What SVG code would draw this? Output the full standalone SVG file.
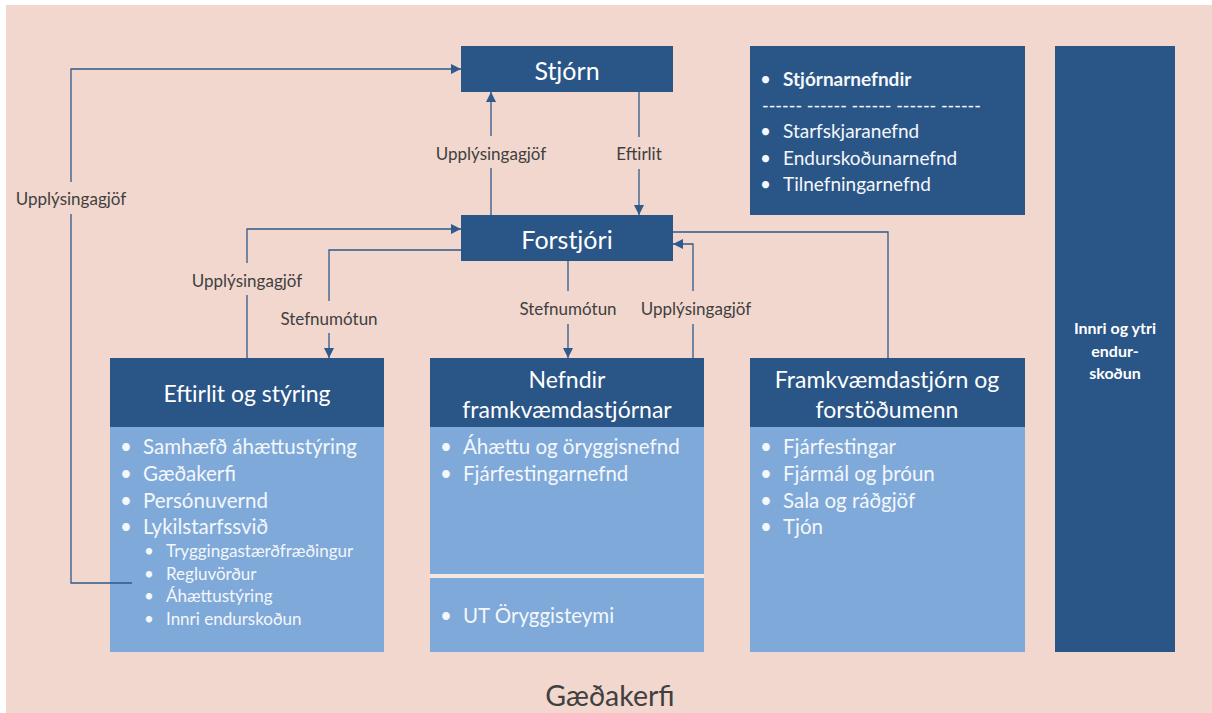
<svg xmlns="http://www.w3.org/2000/svg" width="1212" height="713" viewBox="0 0 1212 713">
<defs>
<marker id="arr" viewBox="0 0 10 10" refX="10" refY="5" markerWidth="10" markerHeight="10" markerUnits="userSpaceOnUse" orient="auto">
<path d="M0,0 L10,5 L0,10 z" fill="#2E5A8C"/>
</marker>
<style>
.dark{fill:#2A5587;}
.light{fill:#7FA9D9;}
.hd{font-family:Lato,"Liberation Sans",sans-serif;fill:#ffffff;text-anchor:middle;dominant-baseline:central;}
.li{font-family:Lato,"Liberation Sans",sans-serif;fill:#F4F7FB;font-size:20.5px;dominant-baseline:central;}
.sm{font-size:19px;}
.sub{font-family:Lato,"Liberation Sans",sans-serif;fill:#F4F7FB;font-size:17px;dominant-baseline:central;}
.lbl{font-family:Lato,"Liberation Sans",sans-serif;fill:#404040;font-size:17px;text-anchor:middle;dominant-baseline:central;}
.ln{fill:none;stroke:#2E5A8C;stroke-width:1.3;}
</style>
</defs>
<rect x="0" y="0" width="1212" height="713" fill="#ffffff"/>
<rect x="6" y="5" width="1206" height="708" fill="#F2D7CE"/>

<g id="stjorn">
<rect class="dark" x="461" y="46" width="212" height="46"/>
<text class="hd" x="567" y="70" font-size="25">Stjórn</text>
</g>
<g id="forstjori">
<rect class="dark" x="461" y="215" width="212" height="46"/>
<text class="hd" x="567" y="239" font-size="25">Forstjóri</text>
</g>
<g id="stjornarnefndir">
<rect class="dark" x="750" y="46" width="275" height="169"/>
<text class="li sm" x="760" y="78">•</text>
<text class="li sm" x="783" y="78" font-weight="bold">Stjórnarnefndir</text>
<text class="li sm" x="762" y="104" textLength="219" lengthAdjust="spacingAndGlyphs">------ ------ ------ ------ ------</text>
<text class="li sm" x="760" y="130">•</text>
<text class="li sm" x="783" y="130">Starfskjaranefnd</text>
<text class="li sm" x="760" y="157">•</text>
<text class="li sm" x="783" y="157">Endurskoðunarnefnd</text>
<text class="li sm" x="760" y="183">•</text>
<text class="li sm" x="783" y="183">Tilnefningarnefnd</text>
</g>
<g id="endurskodun">
<rect class="dark" x="1055" y="46" width="120" height="606"/>
<text class="hd" x="1115" y="327" font-size="16" font-weight="bold">Innri og ytri</text>
<text class="hd" x="1115" y="350" font-size="16" font-weight="bold">endur-</text>
<text class="hd" x="1115" y="372" font-size="16" font-weight="bold">skoðun</text>
</g>
<g id="eftirlit">
<rect class="dark" x="110" y="358" width="274" height="69"/>
<rect class="light" x="110" y="427" width="274" height="225"/>
<text class="hd" x="247" y="393" font-size="23">Eftirlit og stýring</text>
<text class="li" x="120" y="446">•</text><text class="li" x="143" y="446">Samhæfð áhættustýring</text>
<text class="li" x="120" y="473">•</text><text class="li" x="143" y="473">Gæðakerfi</text>
<text class="li" x="120" y="500">•</text><text class="li" x="143" y="500">Persónuvernd</text>
<text class="li" x="120" y="526">•</text><text class="li" x="143" y="526">Lykilstarfssvið</text>
<text class="sub" x="144" y="550">•</text><text class="sub" x="166" y="550">Tryggingastærðfræðingur</text>
<text class="sub" x="144" y="573">•</text><text class="sub" x="166" y="573">Regluvörður</text>
<text class="sub" x="144" y="595">•</text><text class="sub" x="166" y="595">Áhættustýring</text>
<text class="sub" x="144" y="618">•</text><text class="sub" x="166" y="618">Innri endurskoðun</text>
</g>
<g id="nefndir">
<rect class="dark" x="430" y="358" width="274" height="69"/>
<rect class="light" x="430" y="427" width="274" height="147"/>
<rect x="430" y="574" width="274" height="4" fill="#F4E6E1"/>
<rect class="light" x="430" y="578" width="274" height="74"/>
<text class="hd" x="567" y="379" font-size="23">Nefndir</text>
<text class="hd" x="567" y="409" font-size="23">framkvæmdastjórnar</text>
<text class="li" x="440" y="446">•</text><text class="li" x="463" y="446">Áhættu og öryggisnefnd</text>
<text class="li" x="440" y="473">•</text><text class="li" x="463" y="473">Fjárfestingarnefnd</text>
<text class="li" x="440" y="615">•</text><text class="li" x="463" y="615">UT Öryggisteymi</text>
</g>
<g id="framkvaemdastjorn">
<rect class="dark" x="750" y="358" width="275" height="69"/>
<rect class="light" x="750" y="427" width="275" height="225"/>
<text class="hd" x="887" y="379" font-size="23">Framkvæmdastjórn og</text>
<text class="hd" x="887" y="409" font-size="23">forstöðumenn</text>
<text class="li" x="760" y="446">•</text><text class="li" x="783" y="446">Fjárfestingar</text>
<text class="li" x="760" y="473">•</text><text class="li" x="783" y="473">Fjármál og þróun</text>
<text class="li" x="760" y="500">•</text><text class="li" x="783" y="500">Sala og ráðgjöf</text>
<text class="li" x="760" y="526">•</text><text class="li" x="783" y="526">Tjón</text>
</g>

<g id="connectors">
<path class="ln" d="M132,583 H71 V214"/>
<path class="ln" d="M71,182 V69 H461" marker-end="url(#arr)"/>
<text class="lbl" x="71" y="198">Upplýsingagjöf</text>

<path class="ln" d="M491,215 V168"/>
<path class="ln" d="M491,136 V92" marker-end="url(#arr)"/>
<text class="lbl" x="491" y="153">Upplýsingagjöf</text>

<path class="ln" d="M639,92 V137"/>
<path class="ln" d="M639,169 V215" marker-end="url(#arr)"/>
<text class="lbl" x="639" y="153">Eftirlit</text>

<path class="ln" d="M247,358 V295"/>
<path class="ln" d="M247,263 V229 H461" marker-end="url(#arr)"/>
<text class="lbl" x="247" y="280">Upplýsingagjöf</text>

<path class="ln" d="M461,250 H329 V301"/>
<path class="ln" d="M329,333 V358" marker-end="url(#arr)"/>
<text class="lbl" x="329" y="318">Stefnumótun</text>

<path class="ln" d="M568,261 V291"/>
<path class="ln" d="M568,324 V358" marker-end="url(#arr)"/>
<text class="lbl" x="568" y="308">Stefnumótun</text>

<path class="ln" d="M693,358 V324"/>
<path class="ln" d="M693,291 V244 H673" marker-end="url(#arr)"/>
<text class="lbl" x="696" y="308">Upplýsingagjöf</text>

<path class="ln" d="M888,358 V232 H673"/>
</g>
<text x="610" y="695" font-family="Lato,'Liberation Sans',sans-serif" font-size="28.5" fill="#404040" text-anchor="middle" dominant-baseline="central">Gæðakerfi</text>
</svg>
